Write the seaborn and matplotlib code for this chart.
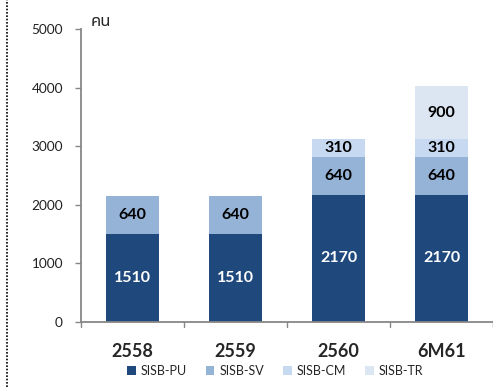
import matplotlib
matplotlib.use("Agg")
import matplotlib.pyplot as plt
from matplotlib.lines import Line2D
from matplotlib.patches import Patch
import numpy as np
import pandas as pd
import seaborn as sns

categories = ["2558", "2559", "2560", "6M61"]
series_names = ["SISB-PU", "SISB-SV", "SISB-CM", "SISB-TR"]
pu = [1510, 1510, 2170, 2170]
sv = [640, 640, 640, 640]
cm = [0, 0, 310, 310]
tr = [0, 0, 0, 900]
colors = ["#1F497D", "#95B3D7", "#C6D9F1", "#DCE6F2"]
label_colors = ["white", "black", "black", "black"]

sns.set_style("white")
plt.rcParams["font.family"] = ["Lato", "DejaVu Sans"]

fig = plt.figure(figsize=(4.93, 3.87), dpi=100)
ax = fig.add_axes([81 / 493, 1 - 322 / 387, 412 / 493, (322 - 29) / 387])

bottom = np.zeros(len(categories))
for name, vals, col, lc in zip(series_names, [pu, sv, cm, tr], colors, label_colors):
    df = pd.DataFrame({"cat": categories, "val": vals, "bottom": bottom})
    df = df[df["val"] > 0]
    sns.barplot(data=df, x="cat", y="val", order=categories, color=col,
                width=0.52, bottom=df["bottom"].to_numpy(), linewidth=0,
                ax=ax, saturation=1)
    ax.bar_label(ax.containers[-1], label_type="center", fmt="%d",
                 color=lc, fontsize=11.5, fontweight="bold")
    bottom = bottom + np.array(vals)

ax.set_ylim(0, 5000)
ax.set_xlim(-0.5, 3.5)
ax.set_yticks(range(0, 5001, 1000))
ax.set_xlabel("")
ax.set_ylabel("")
ax.tick_params(axis="y", length=4, color="#878787", width=1, labelsize=9.8, pad=9,
               left=True, labelcolor="#222222")
ax.set_xticks(range(len(categories)))
ax.set_xticklabels(categories, fontsize=13, fontweight="bold")
ax.tick_params(axis="x", length=0, pad=15)
for x in np.arange(-0.5, 3.6, 1.0):
    ax.plot([x, x], [0, -0.018], transform=ax.get_xaxis_transform(),
            color="#878787", lw=1, clip_on=False)
for s in ["top", "right"]:
    ax.spines[s].set_visible(False)
for s in ["left", "bottom"]:
    ax.spines[s].set_color("#878787")
    ax.spines[s].set_linewidth(1.3)

ax.text(0.024, 0.995, "คน", transform=ax.transAxes, fontsize=12, fontweight="bold",
        ha="left", va="bottom",
        family=["Noto Sans Thai", "Noto Sans", "DejaVu Sans"])

handles = [Patch(facecolor=c, edgecolor="none") for c in colors]
fig.legend(handles, series_names, loc="center", bbox_to_anchor=(0.558, 1 - 371 / 387),
           ncol=4, frameon=False, fontsize=9, handlelength=0.7, handleheight=0.7,
           handletextpad=0.4, columnspacing=1.5)

fig.add_artist(Line2D([7 / 493, 7 / 493], [0, 1], transform=fig.transFigure,
                      color="black", lw=1.2, linestyle=(0, (1, 1))))

fig.savefig("out.png", dpi=100)
